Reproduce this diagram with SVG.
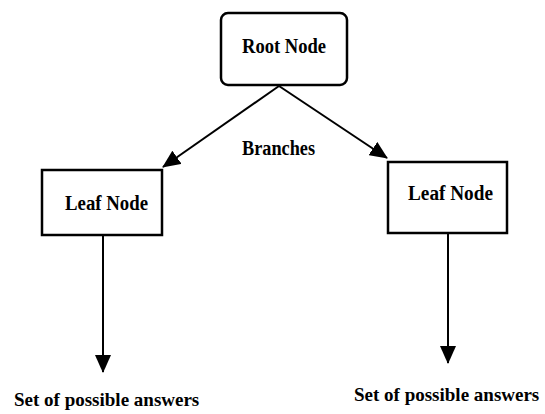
<svg xmlns="http://www.w3.org/2000/svg" width="545" height="414" viewBox="0 0 545 414">
<style>
.box{fill:#fff;stroke:#000;stroke-width:2.5}
.t{font-family:"Liberation Serif","Times New Roman",serif;font-weight:bold;font-size:20px;fill:#000}
.a{font-size:19px}
.c{fill:none;stroke:#000;stroke-width:2}
</style>
<defs>
<marker id="ah" markerUnits="userSpaceOnUse" markerWidth="18" markerHeight="16" viewBox="0 0 18 16" refX="17" refY="8" orient="auto">
<path d="M0,0 L18,8 L0,16 Z" fill="#000"/>
</marker>
</defs>
<rect width="545" height="414" fill="#fff"/>
<g id="connectors">
<line class="c" x1="279" y1="86" x2="163" y2="167" marker-end="url(#ah)"/>
<line class="c" x1="279" y1="86" x2="387" y2="158" marker-end="url(#ah)"/>
<line class="c" x1="103" y1="236" x2="103" y2="372" marker-end="url(#ah)"/>
<line class="c" x1="448" y1="234" x2="448" y2="363" marker-end="url(#ah)"/>
<text class="t" x="242" y="155" textLength="73" lengthAdjust="spacingAndGlyphs">Branches</text>
</g>
<g id="root">
<rect class="box" x="221" y="13" width="126" height="72" rx="7"/>
<text class="t" x="242" y="53" textLength="84" lengthAdjust="spacingAndGlyphs">Root Node</text>
</g>
<g id="leafLeft">
<rect class="box" x="42" y="170" width="120" height="65"/>
<text class="t" x="65" y="210" textLength="83" lengthAdjust="spacingAndGlyphs">Leaf Node</text>
</g>
<g id="leafRight">
<rect class="box" x="388" y="162" width="119" height="71"/>
<text class="t" x="408" y="200" textLength="85" lengthAdjust="spacingAndGlyphs">Leaf Node</text>
</g>
<g id="answersLeft">
<text class="t a" x="14" y="406">Set of possible answers</text>
</g>
<g id="answersRight">
<text class="t a" x="354" y="401">Set of possible answers</text>
</g>
</svg>
